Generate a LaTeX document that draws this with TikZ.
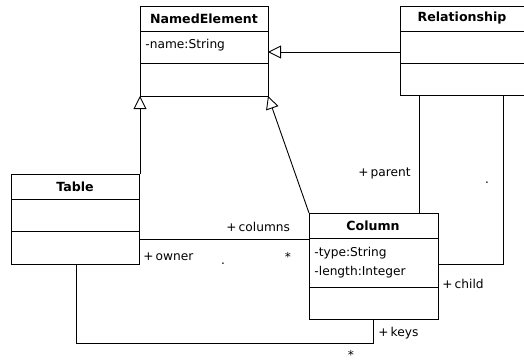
\documentclass[tikz,border=0pt]{standalone}
\usepackage{fontspec}
\setmainfont{DejaVu Sans}
\usetikzlibrary{arrows.meta}
\begin{document}
\begin{tikzpicture}[x=1pt,y=-1pt,line width=0.9pt,
  lbl/.style={font=\fontsize{12.2}{13}\selectfont,inner sep=0pt},
  ttl/.style={font=\fontsize{12.6}{13}\selectfont\bfseries,inner sep=0pt},
  gen/.style={-{Triangle[open,length=13pt,width=13pt]}},
  box/.style={draw,line width=0.9pt}]
\clip (0,0) rectangle (524,362);
\useasboundingbox (0,0) rectangle (524,362);
% NamedElement
\draw[box] (140,6) rectangle (268,96);
\draw (140,31) -- (268,31); \draw (140,63) -- (268,63);
\node[ttl] (ne) at (204,18.5) {NamedElement};
\node[lbl,anchor=west] (nea) at (145,45) {-name:String};
\coordinate (neR) at (268,52);
\coordinate (neBL) at (140,96);
\coordinate (neBR) at (268,96);
% Relationship
\draw[box] (400,6) rectangle (530,95);
\draw (400,31) -- (530,31); \draw (400,63) -- (530,63);
\node[ttl] (rel) at (462,18.5) {Relationship};
\coordinate (relL) at (400,52);
\coordinate (relB1) at (419,95);
\coordinate (relB2) at (503,95);
% Table
\draw[box] (11,174) rectangle (139,264);
\draw (11,199) -- (139,199); \draw (11,231) -- (139,231);
\node[ttl] (tab) at (75,187) {Table};
\coordinate (tabT) at (140,174);
\coordinate (tabR) at (139,239);
\coordinate (tabB) at (76,264);
% Column
\draw[box] (309,213) rectangle (438,319);
\draw (309,238) -- (438,238); \draw (309,287) -- (438,287);
\node[ttl] (col) at (373,225.5) {Column};
\node[lbl,anchor=west] (ca1) at (314,253) {-type:String};
\node[lbl,anchor=west] (ca2) at (314,272) {-length:Integer};
\coordinate (colTL) at (309,213);
\coordinate (colL) at (309,239);
\coordinate (colT) at (419,213);
\coordinate (colR) at (438,264);
\coordinate (colB) at (373,319);
% generalizations
\draw[gen] (relL) -- (neR);
\draw[gen] (tabT) -- (neBL);
\draw[gen] (colTL) -- (neBR);
% associations
\draw (tabR) -- (colL);
\draw (tabB) |- (76,343) -| (colB);
\draw (relB1) -- (colT);
\draw (relB2) |- (colR);
% labels
\node[lbl,anchor=west] (lcols) at (226,227) {+\,columns};
\node[lbl] (lstar1) at (288,257) {*};
\node[lbl,anchor=west] (lown) at (143,257) {+\,owner};
\node[lbl] (ldot1) at (223,264) {.};
\node[lbl,anchor=east] (lpar) at (411,173) {+\,parent};
\node[lbl] (ldot2) at (487,183) {.};
\node[lbl,anchor=west] (lchild) at (442,284) {+\,child};
\node[lbl,anchor=west] (lkeys) at (378,333) {+\,keys};
\node[lbl] (lstar2) at (351,355) {*};
\end{tikzpicture}
\end{document}
